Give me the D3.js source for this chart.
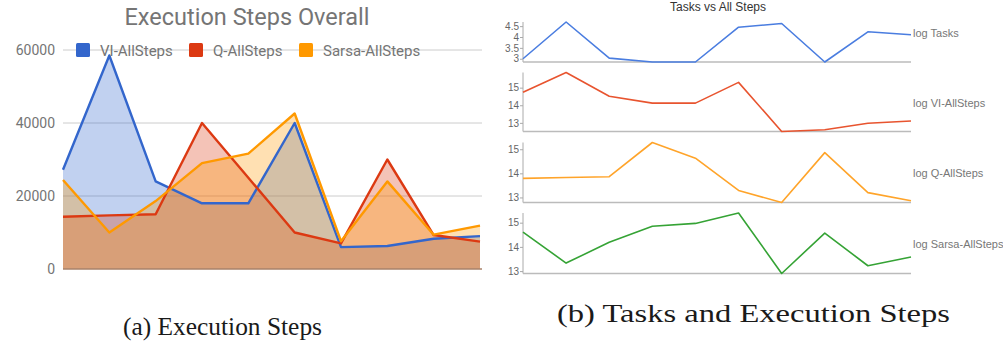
<!DOCTYPE html>
<html><head><meta charset="utf-8">
<script src="https://cdn.jsdelivr.net/npm/d3@7/dist/d3.min.js"></script>
<style>html,body{margin:0;padding:0;background:#fff;}svg{display:block;}</style>
</head><body>
<svg id="chart" width="1003" height="345"></svg>
<script>
// ---------- data ----------
const categories = [1,2,3,4,5,6,7,8,9,10];
const seriesNames = ["VI-AllSteps","Q-AllSteps","Sarsa-AllSteps"];
const viSteps    = [27200, 58500, 24000, 18000, 18000, 40000, 6000, 6300, 8300, 9000];
const qSteps     = [14300, 14700, 15000, 40000, 25000, 10000, 7000, 30000, 9300, 7500];
const sarsaSteps = [24400, 10000, 18600, 29000, 31600, 42600, 7600, 24000, 9400, 11900];
const leftTicks  = [0, 20000, 40000, 60000];

const logTasks = [3.0, 4.69, 3.03, 2.85, 2.85, 4.45, 4.62, 2.85, 4.24, 4.1];
const logVI    = [14.74, 15.86, 14.51, 14.12, 14.12, 15.3, 12.51, 12.61, 12.98, 13.11];
const logQ     = [13.79, 13.83, 13.86, 15.28, 14.63, 13.29, 12.79, 14.86, 13.2, 12.86];
const logSarsa = [14.61, 13.33, 14.19, 14.85, 14.97, 15.4, 12.9, 14.57, 13.22, 13.58];
const panelNames = ["log Tasks","log VI-AllSteps","log Q-AllSteps","log Sarsa-AllSteps"];
const panelTicks = [[3,3.5,4,4.5],[13,14,15],[13,14,15],[13,14,15]];

const svg = d3.select("#chart");

// ---------- left chart ----------
const leftColors = ["#3366cc","#dc3912","#ff9900"];
const leftSeries = [viSteps, qSteps, sarsaSteps];
const xL = d3.scalePoint().domain(categories).range([63, 480]);
const yL = d3.scaleLinear().domain([0, 60000]).range([269, 50]);

svg.append("text").attr("x", 247).attr("y", 25).attr("text-anchor","middle")
  .attr("font-family","Roboto").attr("font-size", 23.5).attr("fill","#757575")
  .text("Execution Steps Overall");

const gL = svg.append("g");
gL.selectAll("line.grid").data(leftTicks.filter(d=>d>0)).join("line")
  .attr("x1", 63).attr("x2", 482).attr("y1", d=>yL(d)).attr("y2", d=>yL(d))
  .attr("stroke","#cccccc").attr("stroke-width",1);
gL.selectAll("text.tick").data(leftTicks).join("text")
  .attr("x", 55).attr("y", d=>yL(d)+5).attr("text-anchor","end")
  .attr("font-family","Roboto").attr("font-size",14).attr("fill","#757575")
  .text(d=>d);

const area = d3.area().x((d,i)=>xL(categories[i])).y0(yL(0)).y1(d=>yL(d));
const line = d3.line().x((d,i)=>xL(categories[i])).y(d=>yL(d));
leftSeries.forEach((s,k)=>{
  gL.append("path").attr("d", area(s)).attr("fill", leftColors[k]).attr("fill-opacity",0.3);
});
gL.append("line").attr("x1",63).attr("x2",482).attr("y1",yL(0)).attr("y2",yL(0))
  .attr("stroke","#a8826a").attr("stroke-width",1.5);
leftSeries.forEach((s,k)=>{
  gL.append("path").attr("d", line(s)).attr("fill","none").attr("stroke", leftColors[k])
    .attr("stroke-width",2.4).attr("stroke-linejoin","round");
});

// legend
const legendX = [76, 189, 299];
seriesNames.forEach((n,k)=>{
  gL.append("rect").attr("x", legendX[k]).attr("y", 43).attr("width",14).attr("height",14)
    .attr("rx",1.5).attr("fill", leftColors[k]);
  gL.append("text").attr("x", legendX[k]+24).attr("y", 55.5)
    .attr("font-family","Roboto").attr("font-size",15).attr("fill","#757575").text(n);
});

// ---------- right chart ----------
const rightColors = ["#4a7de0","#e8542f","#ffa42a","#35a335"];
const rightSeries = [logTasks, logVI, logQ, logSarsa];
const panels = [
  {top: 22, bottom: 62},
  {top: 72.5, bottom: 131.5},
  {top: 142.5, bottom: 202.5},
  {top: 213, bottom: 273.5}
];
const labelY = [36.5, 107, 177, 248];
const xR = d3.scalePoint().domain(categories).range([523, 911]);

svg.append("text").attr("x", 718).attr("y", 11).attr("text-anchor","middle")
  .attr("font-family","Liberation Sans, Arial").attr("font-size",12).attr("fill","#333")
  .text("Tasks vs All Steps");

rightSeries.forEach((s,k)=>{
  const p = panels[k];
  const y = d3.scaleLinear().domain(d3.extent(s)).range([p.bottom, p.top]);
  const g = svg.append("g");
  const ax = g.append("g").attr("transform",`translate(523,0)`)
    .call(d3.axisLeft(y).tickValues(panelTicks[k]).tickSize(3).tickPadding(1).tickFormat(d3.format("")));
  ax.select(".domain").remove();
  ax.selectAll("line").attr("stroke","#aaa");
  ax.selectAll("text").attr("font-family","Liberation Sans, Arial").attr("font-size",10).attr("fill","#666");
  g.append("line").attr("x1",523).attr("x2",523).attr("y1",p.top).attr("y2",p.bottom)
    .attr("stroke","#aaa").attr("stroke-width",1);
  g.append("line").attr("x1",523).attr("x2",911).attr("y1",p.bottom).attr("y2",p.bottom)
    .attr("stroke","#bbb").attr("stroke-width",1.5);
  const ln = d3.line().x((d,i)=>xR(categories[i])).y(d=>y(d));
  g.append("path").attr("d", ln(s)).attr("fill","none").attr("stroke", rightColors[k])
    .attr("stroke-width",1.6).attr("stroke-linejoin","round");
  g.append("text").attr("x", 913).attr("y", labelY[k])
    .attr("font-family","Liberation Sans, Arial").attr("font-size",11).attr("fill","#777")
    .text(panelNames[k]);
});

// ---------- captions ----------
svg.append("text").attr("x",123).attr("y",335).attr("font-family","Liberation Serif, serif")
  .attr("font-size",25).attr("fill","#1a1a1a").attr("textLength",199).attr("lengthAdjust","spacingAndGlyphs")
  .text("(a) Execution Steps");
svg.append("text").attr("x",557).attr("y",322).attr("font-family","Liberation Serif, serif")
  .attr("font-size",25).attr("fill","#1a1a1a").attr("textLength",393).attr("lengthAdjust","spacingAndGlyphs")
  .text("(b) Tasks and Execution Steps");
</script>
</body></html>
